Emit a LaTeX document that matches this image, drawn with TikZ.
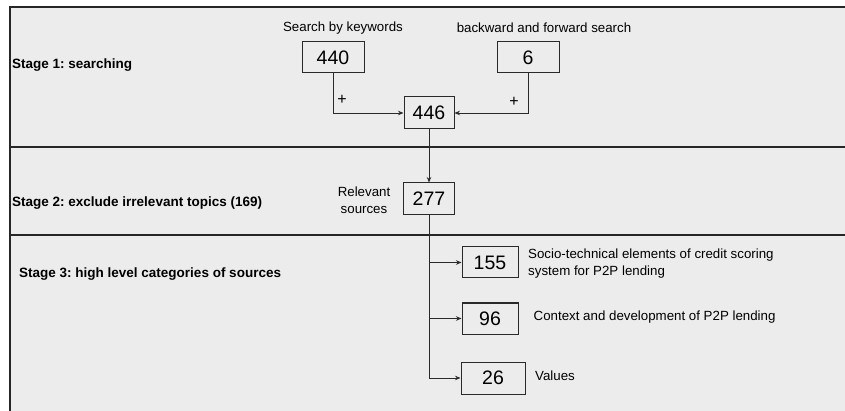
\documentclass[tikz,border=0pt]{standalone}
\usepackage{fontspec}
\setmainfont{Liberation Sans}
\usetikzlibrary{arrows.meta}
\definecolor{bg}{HTML}{ECECEC}
\definecolor{ink}{HTML}{2A2A2A}
\frenchspacing
\begin{document}
\begin{tikzpicture}[x=1pt,y=-1pt,
  numbox/.style={draw=ink,line width=1pt,fill=bg,inner sep=0pt,
    font=\fontsize{19.5}{22}\selectfont},
  lbl/.style={inner sep=0pt,font=\fontsize{13.3}{16}\selectfont,text=black},
  plus/.style={inner sep=0pt,font=\fontsize{16}{18}\selectfont,text=black},
  stagelbl/.style={inner sep=0pt,anchor=west,font=\fontsize{13.5}{16}\selectfont\bfseries},
  conn/.style={draw=ink,line width=0.9pt},
  arr/.style={conn,-{Stealth[length=5.5pt,width=4.5pt]}},
  sep/.style={draw=black!85,line width=1.6pt}]
\useasboundingbox (0,0) rectangle (845,411);
\fill[bg] (9,7) rectangle (845,411);
\draw[sep,line width=1.4pt] (9,7) -- (845,7);
\draw[sep,line width=2pt] (9.5,7) -- (9.5,411);
\draw[sep,line width=1.3pt] (9,147) -- (845,147);
\draw[sep,line width=2pt] (9,235.5) -- (845,235.5);

% stage labels
\node[stagelbl] (s1) at (12,65) {Stage 1: searching};
\node[stagelbl] (s2) at (12,203) {Stage 2: exclude irrelevant topics (169)};
\node[stagelbl] (s3) at (19,274) {Stage 3: high level categories of sources};

% stage 1
\node[lbl] (kw) at (343,28) {Search by keywords};
\node[lbl] (bf) at (544,28) {backward and forward search};
\node[numbox,minimum width=62pt,minimum height=31pt] (b440) at (333,57.5) {440};
\node[numbox,minimum width=62pt,minimum height=31pt] (b6) at (528,57.5) {6};
\node[numbox,minimum width=50pt,minimum height=32pt] (b446) at (429,113) {446};
\draw[arr] (b440.south) |- (b446.west);
\draw[arr] (b6.south) |- (b446.east);
\node[plus] (p1) at (342,100) {+};
\node[plus] (p2) at (514,102) {+};

% stage 2
\node[numbox,minimum width=51pt,minimum height=32pt] (b277) at (429,199) {277};
\node[lbl,align=center] (rel) at (364,200.5) {Relevant\\[1pt]sources};
\draw[arr] (b446.south) -- (b277.north);

% stage 3
\node[numbox,minimum width=56pt,minimum height=31pt] (b155) at (490,262.5) {155};
\node[numbox,minimum width=56pt,minimum height=31pt] (b96) at (490,318.5) {96};
\node[numbox,minimum width=64pt,minimum height=32pt] (b26) at (493,378) {26};
\draw[arr] (b277.south) |- (b155.west);
\draw[arr] (b277.south) |- (b96.west);
\draw[arr] (b277.south) |- (b26.west);
\node[lbl,anchor=west,align=left] (t155) at (528,264) {Socio-technical elements of credit scoring\\[1pt]system for P2P lending};
\node[lbl,anchor=west] (t96) at (533.5,317) {Context and development of P2P lending};
\node[lbl,anchor=west] (t26) at (535,376) {Values};
\end{tikzpicture}
\end{document}
